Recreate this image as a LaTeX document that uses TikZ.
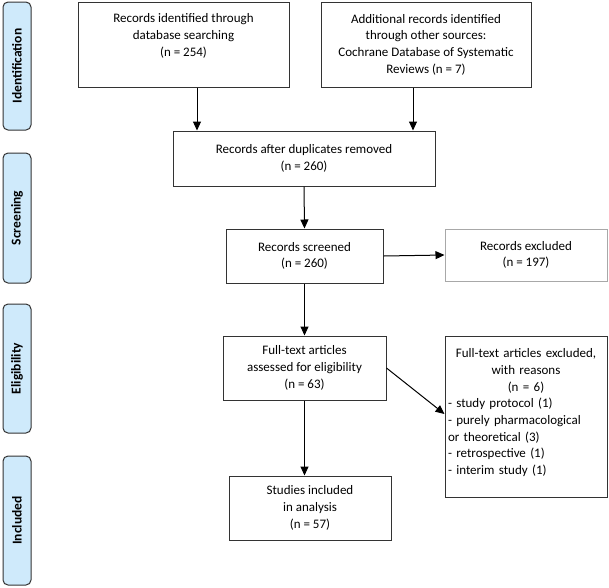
\documentclass[tikz,border=0pt]{standalone}
\usepackage{fontspec}
\setmainfont{Carlito}
\usetikzlibrary{arrows.meta}
\definecolor{phasefill}{HTML}{CFEAFB}
\definecolor{edge}{HTML}{333333}
\definecolor{lightedge}{HTML}{A8A8A8}
\tikzset{
  box/.style={draw=edge, line width=1pt, align=center, inner sep=0pt,
    font=\fontsize{13}{16.7}\selectfont},
  txt/.style={align=center, inner sep=0pt, font=\fontsize{13}{16.7}\selectfont},
  phase/.style={draw=edge, line width=1pt, fill=phasefill, rounded corners=5pt,
    rotate=90, minimum height=28pt, inner sep=0pt,
    font=\fontsize{13.5}{16}\selectfont\bfseries},
  arr/.style={draw=black, line width=1pt, -{Triangle[length=9pt,width=8pt]}}
}
\begin{document}
\begin{tikzpicture}[x=1pt,y=-1pt]
\useasboundingbox (0,0) rectangle (609,587);

% phases
\node[phase, minimum width=128pt] (ident) at (17,66) {Identification};
\node[phase, minimum width=130pt] (screen) at (17,218) {Screening};
\node[phase, minimum width=129pt] (elig) at (17,368.5) {Eligibility};
\node[phase, minimum width=129pt] (incl) at (17,520.5) {Included};

% boxes
\node[box, minimum width=211pt, minimum height=85pt] (a) at (183.5,44.5) {};
\node[txt, anchor=north] (at) at ([yshift=-12pt]a.north)
  {Records identified through\\database searching\\(n = 254)};
\node[box, minimum width=210pt, minimum height=85pt] (b) at (426,44.5)
  {Additional records identified\\through other sources:\\Cochrane Database of Systematic\\Reviews (n = 7)};
\node[box, minimum width=262pt, minimum height=55pt] (c) at (304,158.5)
  {Records after duplicates removed\\(n = 260)};
\node[box, minimum width=157pt, minimum height=54pt] (d) at (304.5,256)
  {Records screened\\(n = 260)};
\node[box, draw=lightedge, minimum width=162pt, minimum height=52pt] (e) at (526,255)
  {Records excluded\\(n = 197)};
\node[box, minimum width=163pt, minimum height=64pt] (f) at (304.5,368)
  {Full-text articles\\assessed for eligibility\\(n = 63)};
\node[box, minimum width=162pt, minimum height=161pt] (g) at (526,416.5) {};
\node[txt, anchor=north, align=left, text width=156pt] (gt) at ([yshift=-13pt]g.north)
  {{\centering Full-text articles excluded,\\with reasons\\(n = 6)\par}
   - study protocol (1)\\
   - purely pharmacological\\
   or theoretical (3)\\
   - retrospective (1)\\
   - interim study (1)};
\node[box, minimum width=162pt, minimum height=64pt] (h) at (310,508)
  {Studies included\\in analysis\\(n = 57)};

% arrows
\draw[arr] ([xshift=13.5pt]a.south) -- ([xshift=13.5pt]a.south |- c.north);
\draw[arr] ([xshift=-13pt]b.south) -- ([xshift=-13pt]b.south |- c.north);
\draw[arr] (c.south) -- (d.north);
\draw[arr] (d.east) -- (e.west);
\draw[arr] (d.south) -- (f.north);
\draw[arr] (f.east) -- ([yshift=2.5pt]g.west);
\draw[arr] (f.south) -- (f.south |- h.north);

\end{tikzpicture}
\end{document}
